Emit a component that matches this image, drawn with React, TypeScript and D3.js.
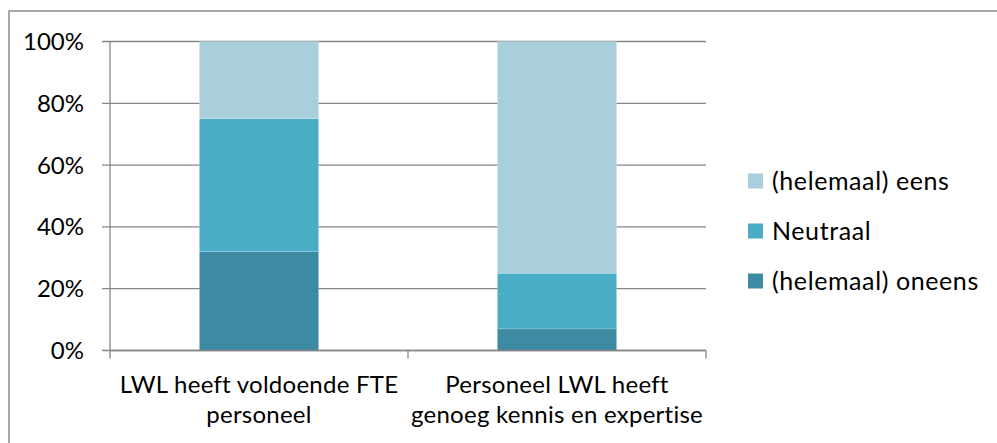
import React from "react";
import * as d3 from "d3";

const categories = [
  ["LWL heeft voldoende FTE", "personeel"],
  ["Personeel LWL heeft", "genoeg kennis en expertise"],
];
const seriesNames = ["(helemaal) oneens", "Neutraal", "(helemaal) eens"];
const oneens = [32, 7];
const neutraal = [43, 18];
const eens = [25, 75];
const yTicks = [0, 20, 40, 60, 80, 100];
const colors = ["#3D8BA3", "#4BACC6", "#A9CEDC"];

const W = 997;
const H = 443;
const M = { left: 110, right: 706, top: 41.5, bottom: 350.5 };
const FONT = "Lato, 'Open Sans', sans-serif";
const FS = 24;

export default function App() {
  const x = d3
    .scaleBand<number>()
    .domain(categories.map((_, i) => i))
    .range([M.left, M.right])
    .paddingInner(0.6)
    .paddingOuter(0.3);
  const y = d3.scaleLinear().domain([0, 100]).range([M.bottom, M.top]);
  const values = [oneens, neutraal, eens];
  const table = categories.map((_, i) => {
    const o: any = { i };
    seriesNames.forEach((s, k) => (o[s] = values[k][i]));
    return o;
  });
  const stack = d3.stack<any>().keys(seriesNames)(table);
  const step = (M.right - M.left) / categories.length;
  const legendOrder = [2, 1, 0];
  const legendY = [181, 231, 281];

  return (
    <svg
      width={W}
      height={H}
      style={{ position: "fixed", left: 0, top: 0, background: "#fff" }}
      fontFamily={FONT}
    >
      <rect x={9} y={11} width={W + 20} height={H + 20} fill="#fff" stroke="#8C8C8C" strokeWidth={1.5} />
      {yTicks.map((t) => (
        <g key={t}>
          <line x1={M.left - 8} x2={M.right} y1={y(t)} y2={y(t)} stroke="#868686" strokeWidth={1.3} />
          <text x={84} y={y(t)} dy="0.35em" textAnchor="end" fontSize={FS} fill="#000">
            {t}%
          </text>
        </g>
      ))}
      {stack.map((layer, k) => (
        <g key={k} fill={colors[k]}>
          {layer.map((d, i) => (
            <rect
              key={i}
              x={x(i)!}
              width={x.bandwidth()}
              y={y(d[1])}
              height={y(d[0]) - y(d[1])}
              stroke="#fff"
              strokeOpacity={0.25}
              strokeWidth={0.6}
            />
          ))}
        </g>
      ))}
      <line x1={M.left} x2={M.left} y1={M.top} y2={M.bottom} stroke="#868686" strokeWidth={1.3} />
      <line x1={M.left} x2={M.right} y1={M.bottom} y2={M.bottom} stroke="#868686" strokeWidth={1.3} />
      {d3.range(categories.length + 1).map((i) => (
        <line
          key={i}
          x1={M.left + i * step}
          x2={M.left + i * step}
          y1={M.bottom}
          y2={M.bottom + 8}
          stroke="#868686"
          strokeWidth={1.3}
        />
      ))}
      {categories.map((lines, i) => (
        <text key={i} textAnchor="middle" fontSize={FS} fill="#000" letterSpacing={0.25}>
          {lines.map((l, j) => (
            <tspan key={j} x={x(i)! + x.bandwidth() / 2} y={393 + j * 30}>
              {l}
            </tspan>
          ))}
        </text>
      ))}
      {legendOrder.map((k, j) => (
        <g key={k}>
          <rect x={748} y={legendY[j] - 7.5} width={15} height={15} fill={colors[k]} />
          <text x={772} y={legendY[j]} dy="0.35em" fontSize={25} letterSpacing={0.6} fill="#000">
            {seriesNames[k]}
          </text>
        </g>
      ))}
    </svg>
  );
}
